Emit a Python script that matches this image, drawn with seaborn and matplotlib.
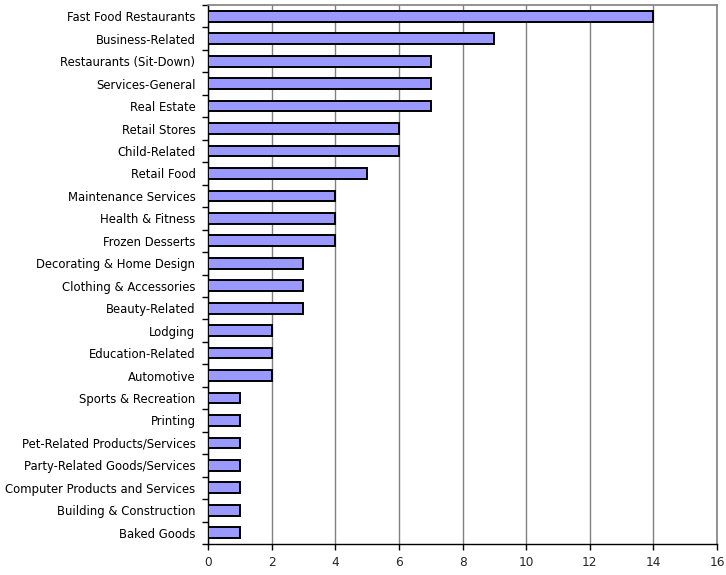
import matplotlib
matplotlib.use("Agg")
import matplotlib.pyplot as plt
import seaborn as sns
import pandas as pd
import numpy as np
from matplotlib.ticker import FixedLocator

categories = [
    "Fast Food Restaurants", "Business-Related", "Restaurants (Sit-Down)",
    "Services-General", "Real Estate", "Retail Stores", "Child-Related",
    "Retail Food", "Maintenance Services", "Health & Fitness", "Frozen Desserts",
    "Decorating & Home Design", "Clothing & Accessories", "Beauty-Related",
    "Lodging", "Education-Related", "Automotive", "Sports & Recreation",
    "Printing", "Pet-Related Products/Services", "Party-Related Goods/Services",
    "Computer Products and Services", "Building & Construction", "Baked Goods",
]
values = [14, 9, 7, 7, 7, 6, 6, 5, 4, 4, 4, 3, 3, 3, 2, 2, 2, 1, 1, 1, 1, 1, 1, 1]
x_ticks = [0, 2, 4, 6, 8, 10, 12, 14, 16]

df = pd.DataFrame({"category": categories, "count": values})

sns.set_style("white")
plt.rcParams["font.family"] = ["DejaVu Sans"]

fig = plt.figure(figsize=(7.26, 5.75), dpi=100)
ax = fig.add_axes([208 / 726, 1 - 544 / 575, (717 - 208) / 726, (544 - 5) / 575])

sns.barplot(data=df, x="count", y="category", orient="h", color="#9999FF",
            saturation=1, edgecolor="black", linewidth=1.4, width=0.48, ax=ax, zorder=3)

ax.set_xlim(0, 16)
ax.set_ylim(len(categories) - 0.5, -0.5)
ax.set_xticks(x_ticks)
ax.set_xticklabels([str(t) for t in x_ticks])
ax.xaxis.grid(True, color="#808080", linewidth=1, zorder=0)
ax.yaxis.grid(False)
ax.set_axisbelow(True)
ax.set_xlabel("")
ax.set_ylabel("")

ax.yaxis.set_minor_locator(FixedLocator(np.arange(-0.5, len(categories), 1.0)))
ax.tick_params(axis="y", which="major", length=0, pad=9, labelsize=8.4, colors="black")
ax.tick_params(axis="y", which="minor", length=4, width=1, color="black", direction="out", left=True)
ax.tick_params(axis="x", which="major", length=4, width=1, color="black", direction="out",
               bottom=True, labelsize=8.7, pad=5)

for side in ["left", "bottom"]:
    ax.spines[side].set_color("black")
    ax.spines[side].set_linewidth(1)
for side in ["top", "right"]:
    ax.spines[side].set_color("#808080")
    ax.spines[side].set_linewidth(1.2)

fig.savefig("out.png", dpi=100)
